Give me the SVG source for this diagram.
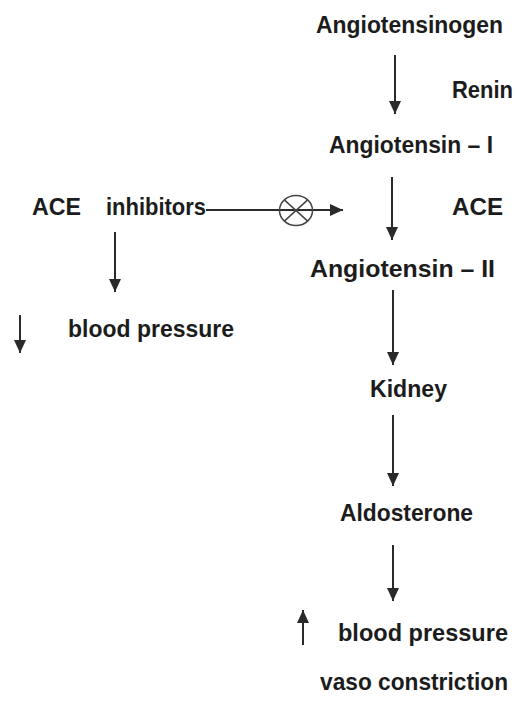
<svg xmlns="http://www.w3.org/2000/svg" width="518" height="708" viewBox="0 0 518 708">
<defs>
<style>
.t{font-family:"Liberation Sans",Arial,sans-serif;font-weight:bold;font-size:24px;fill:#1c1c1c;}
.c{stroke:#2a2a2a;stroke-width:2;fill:none;}
</style>
<marker id="ah" viewBox="0 0 13 12" refX="13" refY="6" markerWidth="13" markerHeight="12" orient="auto" markerUnits="userSpaceOnUse">
<path d="M0,0 L13,6 L0,12 z" fill="#2a2a2a"/>
</marker>
</defs>
<rect width="518" height="708" fill="#fff"/>
<g id="angiotensinogen"><text class="t" x="316" y="33" textLength="187" lengthAdjust="spacingAndGlyphs">Angiotensinogen</text></g>
<g id="renin"><text class="t" x="452" y="98" textLength="61" lengthAdjust="spacingAndGlyphs">Renin</text></g>
<g id="angiotensin1"><text class="t" x="329" y="153" textLength="164" lengthAdjust="spacingAndGlyphs">Angiotensin – I</text></g>
<g id="ace-inhibitors"><text class="t" x="32" y="215" textLength="49" lengthAdjust="spacingAndGlyphs">ACE</text><text class="t" x="106" y="215" textLength="100" lengthAdjust="spacingAndGlyphs">inhibitors</text></g>
<g id="ace"><text class="t" x="452" y="215" textLength="51" lengthAdjust="spacingAndGlyphs">ACE</text></g>
<g id="angiotensin2"><text class="t" x="310" y="277" textLength="185" lengthAdjust="spacingAndGlyphs">Angiotensin – II</text></g>
<g id="bp-low"><text class="t" x="68" y="337" textLength="166" lengthAdjust="spacingAndGlyphs">blood pressure</text></g>
<g id="kidney"><text class="t" x="370" y="397" textLength="77" lengthAdjust="spacingAndGlyphs">Kidney</text></g>
<g id="aldosterone"><text class="t" x="340" y="521" textLength="133" lengthAdjust="spacingAndGlyphs">Aldosterone</text></g>
<g id="bp-high"><text class="t" x="338" y="641" textLength="170" lengthAdjust="spacingAndGlyphs">blood pressure</text></g>
<g id="vasoconstriction"><text class="t" x="320" y="690" textLength="188" lengthAdjust="spacingAndGlyphs">vaso constriction</text></g>
<g id="connectors">
<line class="c" x1="395" y1="55" x2="395" y2="114" marker-end="url(#ah)"/>
<line class="c" x1="392" y1="177" x2="392" y2="240" marker-end="url(#ah)"/>
<line class="c" x1="393" y1="290" x2="393" y2="365" marker-end="url(#ah)"/>
<line class="c" x1="393" y1="415" x2="393" y2="486" marker-end="url(#ah)"/>
<line class="c" x1="393" y1="545" x2="393" y2="601" marker-end="url(#ah)"/>
<line class="c" x1="115" y1="232" x2="115" y2="292" marker-end="url(#ah)"/>
<line class="c" x1="20" y1="315" x2="20" y2="353" marker-end="url(#ah)"/>
<line class="c" x1="303" y1="645" x2="303" y2="610" marker-end="url(#ah)"/>
<line class="c" x1="206" y1="210" x2="343" y2="210" marker-end="url(#ah)"/>
<g id="inhibit-symbol">
<ellipse cx="296" cy="210.5" rx="16.5" ry="15" fill="none" stroke="#444" stroke-width="1.5"/>
<line x1="284.3" y1="199.9" x2="307.7" y2="221.1" stroke="#444" stroke-width="1.5"/>
<line x1="307.7" y1="199.9" x2="284.3" y2="221.1" stroke="#444" stroke-width="1.5"/>
</g>
</g>
</svg>
